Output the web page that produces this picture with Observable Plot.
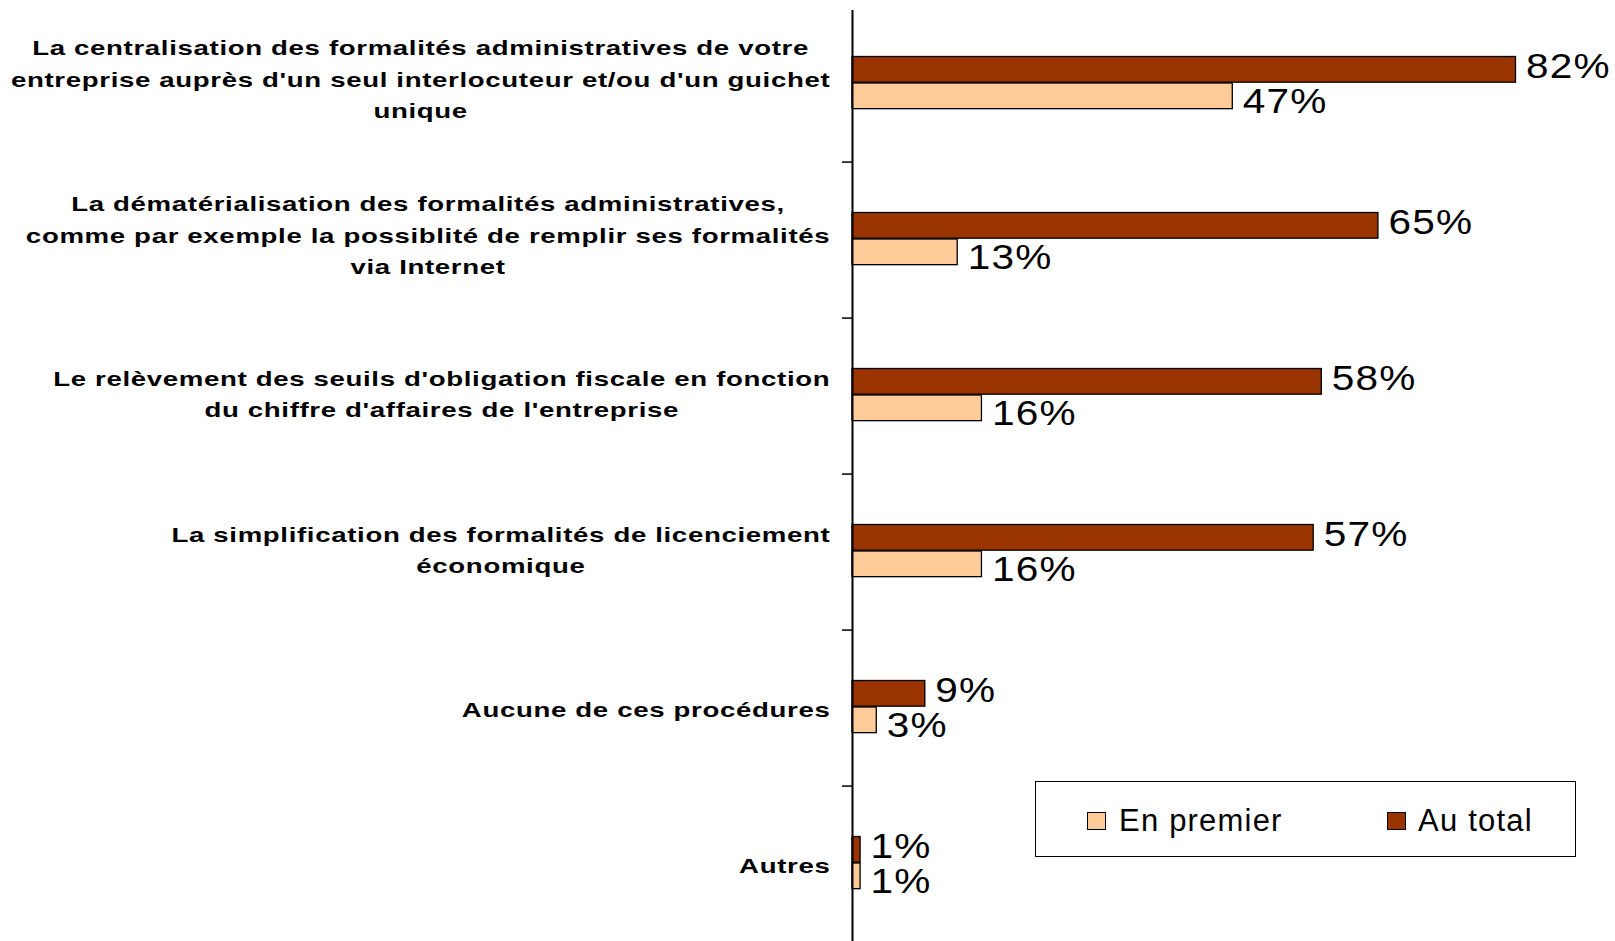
<!DOCTYPE html>
<html>
<head>
<meta charset="utf-8">
<script src="https://cdn.jsdelivr.net/npm/d3@7"></script>
<script src="https://cdn.jsdelivr.net/npm/@observablehq/plot@0.6"></script>
<style>
  html, body { margin: 0; padding: 0; background: #fff; }
  #wrap { position: relative; width: 1615px; height: 941px; overflow: hidden; }
  #legend { position: absolute; left: 1035px; top: 781px; width: 539px; height: 74px;
    border: 1.5px solid #000; background: #fff; font-family: "Liberation Sans", Arial, sans-serif; }
  .sw { position: absolute; top: 30px; width: 17px; height: 16px; border: 1.5px solid #000; }
  .lt { position: absolute; top: 21px; font-size: 31px; letter-spacing: 1.2px; color: #000; line-height: 36px; }
</style>
</head>
<body>
<div id="wrap"></div>
<script>
const categories = [
  "centralisation", "dematerialisation", "seuils", "licenciement", "aucune", "autres"
];
const categoryLabels = [
  "La centralisation des formalités administratives de votre\nentreprise auprès d'un seul interlocuteur et/ou d'un guichet\nunique",
  "La dématérialisation des formalités administratives,\ncomme par exemple la possiblité de remplir ses formalités\nvia Internet",
  "Le relèvement des seuils d'obligation fiscale en fonction\ndu chiffre d'affaires de l'entreprise",
  "La simplification des formalités de licenciement\néconomique",
  "Aucune de ces procédures",
  "Autres"
];
const seriesNames = ["En premier", "Au total"];
const enPremier = [47, 13, 16, 16, 3, 1];
const auTotal = [82, 65, 58, 57, 9, 1];

const colorPremier = "#FFCC99";
const colorTotal = "#993300";

const W = 1615, H = 941;
const mTop = 3, mBottom = -3, mLeft = 852, mRight = 0;
const bw = (H - mTop - mBottom) / categories.length;

const rowsTotal = categories.map((c, i) => ({cat: c, value: auTotal[i], series: seriesNames[1]}));
const rowsPremier = categories.map((c, i) => ({cat: c, value: enPremier[i], series: seriesNames[0]}));

const FONT = "'Liberation Sans', Arial, sans-serif";
const labelSize = 21;
const labelLS = 0.5;
const labelStretch = 1.315;
const valueSize = 35;
const valueLS = 1;
const valueStretch = 1.16;

// measure label lines to center them within a right-aligned block
const canvas = document.createElement("canvas");
const ctx = canvas.getContext("2d");
ctx.font = `bold ${labelSize}px ${FONT}`;
function lineWidth(s) { return (ctx.measureText(s).width + labelLS * s.length) * labelStretch; }
const labelGap = 22;

const barH = 26.5;
const darkTop = 50.5;
const labelMarks = categories.map((c, i) => {
  const lines = categoryLabels[i].split("\n");
  const maxW = d3.max(lines, lineWidth);
  return Plot.text([{cat: c, label: categoryLabels[i]}], {
    y: "cat", frameAnchor: "left", text: "label",
    textAnchor: "middle", lineAnchor: "middle", lineHeight: 1.5,
    dx: -(labelGap + maxW / 2),
    dy: -2 - 3 * (lines.length - 1),
    fontSize: labelSize, fontWeight: "bold", fill: "#000", fontFamily: FONT
  });
});

const chart = Plot.plot({
  width: W, height: H,
  marginTop: mTop, marginBottom: mBottom, marginLeft: mLeft, marginRight: mRight,
  x: {domain: [0, 94.3], axis: null},
  y: {domain: categories, padding: 0, axis: null},
  style: {fontFamily: FONT, background: "#fff"},
  marks: [
    Plot.barX(rowsTotal, {y: "cat", x: "value", fill: colorTotal, stroke: "#000", strokeWidth: 1.3,
      insetTop: darkTop, insetBottom: bw - darkTop - barH}),
    Plot.barX(rowsPremier, {y: "cat", x: "value", fill: colorPremier, stroke: "#000", strokeWidth: 1.3,
      insetTop: darkTop + barH, insetBottom: bw - darkTop - 2 * barH}),
    Plot.text(rowsTotal, {y: "cat", x: "value", text: d => d.value + "%", textAnchor: "start",
      dx: 10, dy: darkTop + barH / 2 - bw / 2 - 3.5, fontSize: valueSize, fill: "#000", fontFamily: FONT}),
    Plot.text(rowsPremier, {y: "cat", x: "value", text: d => d.value + "%", textAnchor: "start",
      dx: 10, dy: darkTop + 1.5 * barH - bw / 2 + 5.5, fontSize: valueSize, fill: "#000", fontFamily: FONT}),
    Plot.ruleX([0], {stroke: "#000", strokeWidth: 2, insetTop: 7}),
    Plot.axisY({ticks: categories.slice(1), tickSize: 10, tickFormat: () => "", label: null, dy: -bw / 2,
      stroke: "#000", strokeWidth: 1.5, tickPadding: 0}),
    ...labelMarks
  ]
});
// horizontal glyph stretch + letter spacing, as in the original rendering
chart.querySelectorAll("g[aria-label='text']").forEach(g => {
  const fs = +g.getAttribute("font-size");
  const isLabel = fs === labelSize;
  g.setAttribute("letter-spacing", isLabel ? labelLS : valueLS);
  const k = isLabel ? labelStretch : valueStretch;
  g.querySelectorAll("text").forEach(t => {
    const tr = t.getAttribute("transform") || "";
    t.setAttribute("transform", `${tr} scale(${k},1)`);
  });
});
document.getElementById("wrap").appendChild(chart);

const legend = document.createElement("div");
legend.id = "legend";
legend.innerHTML =
  `<div class="sw" style="left:51px;background:${colorPremier}"></div>` +
  `<div class="lt" style="left:83px">${seriesNames[0]}</div>` +
  `<div class="sw" style="left:351px;background:${colorTotal}"></div>` +
  `<div class="lt" style="left:382px">${seriesNames[1]}</div>`;
document.getElementById("wrap").appendChild(legend);
</script>
</body>
</html>
